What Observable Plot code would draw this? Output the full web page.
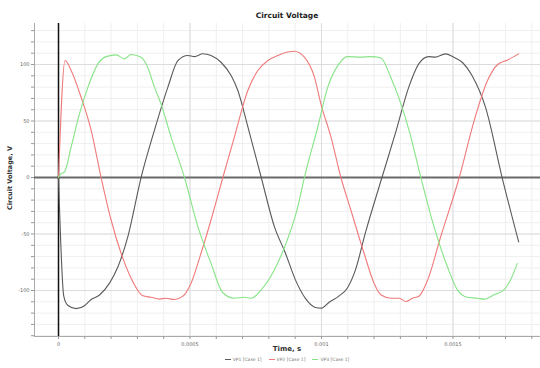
<!DOCTYPE html>
<html>
<head>
<meta charset="utf-8">
<script src="https://cdn.jsdelivr.net/npm/d3@7"></script>
<script src="https://cdn.jsdelivr.net/npm/@observablehq/plot@0.6"></script>
<style>
  body { margin: 0; background: #fff; }
  #chart { position: relative; width: 540px; height: 368px; overflow: hidden; font-family: "DejaVu Sans", Verdana, sans-serif; }
  #chart svg { position: absolute; left: 0; top: 0; }
  .title { position: absolute; left: 34px; width: 506px; top: 11px; text-align: center; font-weight: bold; font-size: 7.5px; color: #222; }
  .ylabel { position: absolute; left: 10px; top: 178px; transform: translate(-50%, -50%) rotate(-90deg); white-space: nowrap; font-weight: bold; font-size: 6.5px; color: #333; }
  .xlabel { position: absolute; left: 34px; width: 506px; top: 345px; text-align: center; font-weight: bold; font-size: 7px; color: #333; }
  .legend { position: absolute; left: 0; width: 540px; top: 357px; display: flex; justify-content: center; gap: 7px; padding-left: 34px; box-sizing: border-box; font-size: 4.5px; color: #777; }
  .legend span { display: inline-flex; align-items: center; }
  .legend i { display: inline-block; width: 6px; height: 1px; margin-right: 2px; }
</style>
</head>
<body>
<div id="chart"></div>
<script>
// Three phase voltages, VP1..VP3, sampled over time (s) -> volts
const seriesNames = ["VP1 [Case 1]", "VP2 [Case 1]", "VP3 [Case 1]"];
const seriesColors = ["#5a5a5a", "#f07a7a", "#86e486"];

const blackTime = [0, 0.00002, 0.000035, 0.000067, 0.000099, 0.000124, 0.000156, 0.000194, 0.000226, 0.000264,
  0.000314, 0.000365, 0.000416, 0.000454, 0.000492, 0.000517, 0.000549, 0.00058, 0.000618, 0.000657,
  0.000682, 0.00072, 0.000771, 0.000821, 0.000863, 0.000901, 0.000939, 0.000977, 0.001, 0.001028,
  0.001066, 0.001098, 0.001129, 0.001167, 0.00123, 0.001281, 0.001332, 0.00137, 0.001408, 0.001433,
  0.001471, 0.001503, 0.001535, 0.001573, 0.001624, 0.001687, 0.00175];
const blackVolt = [0, -105, -113, -116, -113.5, -108, -104, -93.5, -79, -52,
  0, 42, 80, 103.5, 108, 107, 109.5, 108, 102, 90,
  77, 45, 0, -43.5, -67, -90.6, -107, -115, -115.6, -110.6,
  -105, -98, -82, -49, 0, 39, 80, 100.6, 107, 106.5,
  109.4, 106.5, 102, 90, 62, 0, -57];

const redTime = [0, 0.000025, 0.000048, 0.000086, 0.000124, 0.000162, 0.0002, 0.000238, 0.000276, 0.000321,
  0.000352, 0.000384, 0.000409, 0.000441, 0.000473, 0.000504, 0.000542, 0.00058, 0.000625, 0.000669,
  0.00072, 0.000758, 0.000796, 0.000834, 0.000871, 0.000897, 0.000935, 0.000973, 0.000998, 0.001036,
  0.001074, 0.001112, 0.001162, 0.0012, 0.001227, 0.001264, 0.001296, 0.001321, 0.001346, 0.001371,
  0.001404, 0.001454, 0.001524, 0.001581, 0.001632, 0.00167, 0.001708, 0.00175];
const redVolt = [0, 103.5, 94.7, 71, 42, 0, -37.6, -67, -89, -104.7,
  -106, -107.6, -106.8, -108, -105, -93.5, -67, -37.6, 0, 36,
  77, 94.7, 103.5, 108, 111, 111.8, 106.5, 89, 65, 36,
  0, -29, -67, -93.5, -104, -106.8, -106.8, -109.7, -106.8, -105,
  -90.6, -52, 0, 50.6, 86, 100, 104, 109.4];

const greenTime = [0, 0.000008, 0.000023, 0.000048, 0.00008, 0.000112, 0.00015, 0.000181, 0.000219, 0.000251,
  0.000276, 0.000314, 0.000333, 0.000365, 0.00039, 0.000428, 0.000479, 0.00053, 0.00058, 0.000625,
  0.000669, 0.000707, 0.000733, 0.000771, 0.000806, 0.000835, 0.000859, 0.00091, 0.000935, 0.000986,
  0.001024, 0.001062, 0.001099, 0.001149, 0.001187, 0.001225, 0.001263, 0.001295, 0.001333, 0.001378,
  0.001428, 0.001479, 0.001517, 0.001555, 0.001593, 0.001618, 0.001656, 0.001694, 0.001719, 0.001745];
const greenVolt = [0, 3, 5, 27, 56.5, 80, 100.6, 107, 108.5, 105,
  108.8, 106.5, 100.6, 80, 65, 36, 0, -43.5, -76, -102,
  -106.8, -106, -106.8, -99.4, -88, -75, -62, -26, 0, 44.7,
  80, 99, 107, 106.5, 107, 106, 89, 70, 42, 0,
  -43.5, -79, -99.4, -106, -106.8, -107.6, -103.8, -99.4, -90.6, -76];

const xTickValues = d3.range(0, 19).map(i => +(i * 0.0001).toFixed(4));
const xTickLabels = { 0: "0", 0.0005: "0.0005", 0.001: "0.001", 0.0015: "0.0015" };
const yTickValues = d3.range(-140, 140, 10);
const yTickLabels = { "-100": "-100", "-50": "-50", 0: "0", 50: "50", 100: "100" };

const xDomain = [-0.0000913, 0.001833];
const yDomain = [-140.7, 136.3];

const rows = [];
[[blackTime, blackVolt], [redTime, redVolt], [greenTime, greenVolt]].forEach(([ts, vs], k) => {
  ts.forEach((t, i) => rows.push({ t, v: vs[i], s: seriesNames[k] }));
});

const plot = Plot.plot({
  width: 540,
  height: 368,
  marginLeft: 34,
  marginRight: 0,
  marginTop: 23,
  marginBottom: 32,
  style: { background: "#fff", fontFamily: "DejaVu Sans, Verdana, sans-serif", fontSize: "5px", color: "#666" },
  x: { domain: xDomain },
  y: { domain: yDomain },
  color: { domain: seriesNames, range: seriesColors },
  marks: [
    // minor grid
    Plot.ruleX(xTickValues, { stroke: "#efefef", strokeWidth: 1 }),
    Plot.ruleY(yTickValues, { stroke: "#efefef", strokeWidth: 1 }),
    // major grid
    Plot.ruleX([0.0005, 0.001, 0.0015], { stroke: "#dcdcdc", strokeWidth: 1 }),
    Plot.ruleY([-100, -50, 50, 100], { stroke: "#dcdcdc", strokeWidth: 1 }),
    // axis lines
    Plot.ruleX([xDomain[0]], { stroke: "#aaa", strokeWidth: 1 }),
    Plot.ruleY([yDomain[0]], { stroke: "#aaa", strokeWidth: 1 }),
    Plot.axisX({ ticks: xTickValues, tickSize: 3, tickPadding: 3, stroke: "#999", label: null,
      tickFormat: d => xTickLabels[+d.toFixed(4)] ?? "", fill: "#666" }),
    Plot.axisY({ ticks: yTickValues, tickSize: 3, tickPadding: 2, stroke: "#999", label: null,
      tickFormat: d => yTickLabels[d] ?? "", fill: "#666" }),
    // zero reference lines
    Plot.ruleY([0], { stroke: "#6a6a6a", strokeWidth: 2 }),
    Plot.ruleX([0], { stroke: "#111", strokeWidth: 1.5 }),
    // voltage traces
    Plot.line(rows, { x: "t", y: "v", z: "s", stroke: "s", strokeWidth: 1.1, curve: "monotone-x" })
  ]
});

const chart = document.getElementById("chart");
chart.appendChild(plot);

const title = document.createElement("div");
title.className = "title";
title.textContent = "Circuit Voltage";
chart.appendChild(title);

const ylab = document.createElement("div");
ylab.className = "ylabel";
ylab.textContent = "Circuit Voltage, V";
chart.appendChild(ylab);

const xlab = document.createElement("div");
xlab.className = "xlabel";
xlab.textContent = "Time, s";
chart.appendChild(xlab);

const legend = document.createElement("div");
legend.className = "legend";
seriesNames.forEach((name, i) => {
  const item = document.createElement("span");
  const sw = document.createElement("i");
  sw.style.background = seriesColors[i];
  item.appendChild(sw);
  item.appendChild(document.createTextNode(name));
  legend.appendChild(item);
});
chart.appendChild(legend);
</script>
</body>
</html>
